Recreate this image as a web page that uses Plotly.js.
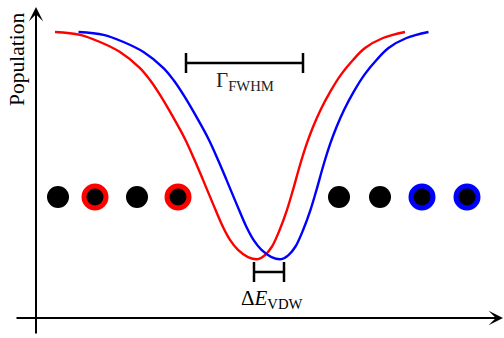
<!DOCTYPE html>
<html>
<head>
<meta charset="utf-8">
<script src="https://cdn.plot.ly/plotly-3.0.1.min.js"></script>
<style>html,body{margin:0;padding:0;background:#fff;overflow:hidden}</style>
</head>
<body>
<div id="chart" style="width:504px;height:338px"></div>
<script>
// Line profiles: energy (arb. units) vs. population
const redE  = [1.9, 4.4, 6.4, 8.4, 10.4, 11.4, 12.4, 13.7, 14.9, 15.9, 16.7, 17.7, 18.7, 19.4, 20.2, 21.2, 22.2, 22.9, 23.6, 24.4, 25.1, 25.7, 26.4, 27.1, 27.7, 28.5, 29.4, 30.5, 31.7, 32.9, 34.7, 36.9];
const redP  = [1.000, 0.990, 0.965, 0.930, 0.874, 0.832, 0.780, 0.703, 0.626, 0.549, 0.483, 0.399, 0.318, 0.273, 0.238, 0.213, 0.206, 0.220, 0.250, 0.311, 0.378, 0.448, 0.535, 0.612, 0.668, 0.731, 0.790, 0.851, 0.902, 0.944, 0.979, 1.000];
const blueE = [4.25, 6.75, 8.75, 10.75, 12.75, 13.75, 14.75, 16.05, 17.25, 18.25, 19.05, 20.05, 21.05, 21.75, 22.55, 23.55, 24.55, 25.25, 25.95, 26.75, 27.45, 28.05, 28.75, 29.45, 30.05, 30.85, 31.75, 32.85, 34.05, 35.25, 37.05, 39.25];
const blueP = [1.000, 0.990, 0.965, 0.930, 0.874, 0.832, 0.780, 0.703, 0.626, 0.549, 0.483, 0.399, 0.318, 0.273, 0.238, 0.213, 0.206, 0.220, 0.250, 0.311, 0.378, 0.448, 0.535, 0.612, 0.668, 0.731, 0.790, 0.851, 0.902, 0.944, 0.979, 1.000];

// Row of atoms; ring colour marks the perturbing species
const atomE    = [2.2, 5.9, 10.1, 14.2, 30.3, 34.4, 38.6, 43.1];
const atomP    = 0.423;
const atomRing = ['black', 'red', 'black', 'red', 'black', 'black', 'blue', 'blue'];

// Width markers
const fwhmRange = [15.0, 26.7];
const fwhmLevel = 0.892;
const vdwRange  = [21.8, 24.8];
const vdwLevel  = 0.161;

// Axis arrows
const axisTail = {x: -2.1, y: -0.0594};
const axisHead = {x: 46.7, y: 1.0874};

const serif = 'Liberation Serif, Times New Roman, serif';
const red = '#ff0000', blue = '#0000ff';

const ringColors = atomRing.map(c => c === 'black' ? 'black' : (c === 'red' ? red : blue));
const ringWidths = atomRing.map(c => c === 'black' ? 0 : 5);

function widthBar(range, level) {
  return {
    x: [(range[0] + range[1]) / 2],
    y: [level],
    mode: 'markers',
    marker: {size: 1, color: 'rgba(0,0,0,0)'},
    error_x: {type: 'data', array: [(range[1] - range[0]) / 2], color: 'black', thickness: 2.5, width: 10},
    hoverinfo: 'skip'
  };
}

const traces = [
  {x: redE, y: redP, mode: 'lines', line: {color: red, width: 2.4, shape: 'spline', smoothing: 1}},
  {x: blueE, y: blueP, mode: 'lines', line: {color: blue, width: 2.4, shape: 'spline', smoothing: 1}},
  {x: atomE, y: atomE.map(() => atomP), mode: 'markers',
   marker: {size: 22, color: 'black', line: {color: ringColors, width: ringWidths}}},
  widthBar(fwhmRange, fwhmLevel),
  widthBar(vdwRange, vdwLevel)
];

const layout = {
  width: 504, height: 338,
  margin: {l: 0, r: 0, t: 0, b: 0},
  paper_bgcolor: '#fff', plot_bgcolor: '#fff',
  showlegend: false,
  xaxis: {range: [-3.6, 46.8], visible: false, fixedrange: true},
  yaxis: {range: [-0.06993, 1.11189], visible: false, fixedrange: true},
  annotations: [
    // energy axis
    {x: axisHead.x, y: 0, ax: axisTail.x, ay: 0, xref: 'x', yref: 'y', axref: 'x', ayref: 'y',
     text: '', showarrow: true, arrowhead: 3, arrowsize: 1.2, arrowwidth: 2, arrowcolor: 'black'},
    // population axis
    {x: 0, y: axisHead.y, ax: 0, ay: axisTail.y, xref: 'x', yref: 'y', axref: 'x', ayref: 'y',
     text: '', showarrow: true, arrowhead: 3, arrowsize: 1.2, arrowwidth: 2, arrowcolor: 'black'},
    {x: -1.9, y: 0.902, xref: 'x', yref: 'y', text: 'Population', textangle: -90, showarrow: false,
     font: {family: serif, size: 21.5, color: 'black'}},
    {x: 46.1, y: -0.045, xref: 'x', yref: 'y', text: '<i>ν</i>', xanchor: 'left', yanchor: 'top', showarrow: false,
     font: {family: serif, size: 18, color: 'black'}},
    {x: (fwhmRange[0] + fwhmRange[1]) / 2, y: 0.882, xref: 'x', yref: 'y', yanchor: 'top',
     text: 'Γ<sub>FWHM</sub>', showarrow: false, font: {family: serif, size: 21, color: '#222'}},
    {x: 23.6, y: 0.12, xref: 'x', yref: 'y', yanchor: 'top',
     text: 'Δ<i>E</i><sub>VDW</sub>', showarrow: false, font: {family: serif, size: 21, color: 'black'}}
  ]
};

Plotly.newPlot('chart', traces, layout, {staticPlot: true, displayModeBar: false});
</script>
</body>
</html>
